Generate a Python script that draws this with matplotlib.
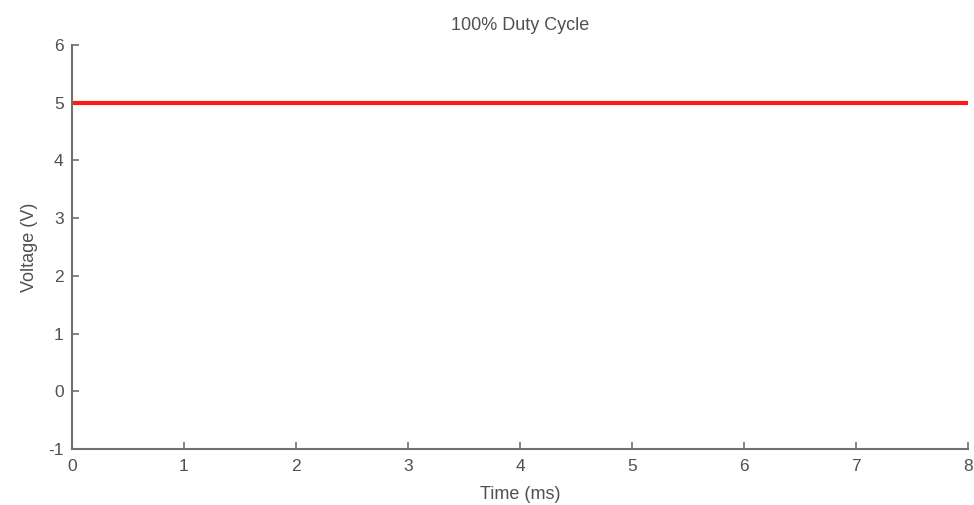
import matplotlib
matplotlib.use("Agg")
import matplotlib.pyplot as plt

time_ms = [0, 8]
voltage = [5, 5]
xticks = [0, 1, 2, 3, 4, 5, 6, 7, 8]
yticks = [-1, 0, 1, 2, 3, 4, 5, 6]

plt.rcParams['font.family'] = ['Liberation Sans', 'DejaVu Sans']
plt.rcParams['axes.unicode_minus'] = False
fig = plt.figure(figsize=(9.74, 5.05), dpi=100)
ax = fig.add_axes([72/974, 1-449/505, 896/974, 404/505])
ax.plot(time_ms, voltage, color='#ff1a1a', linewidth=3)
ax.set_xlim(0, 8)
ax.set_ylim(-1, 6)
ax.set_xticks(xticks)
ax.set_yticks(yticks)
gray = '#505050'
for s in ['top', 'right']:
    ax.spines[s].set_visible(False)
for s in ['left', 'bottom']:
    ax.spines[s].set_color('#707070')
    ax.spines[s].set_linewidth(1.5)
ax.tick_params(direction='in', length=5, width=1.2, colors='#707070', labelcolor=gray, labelsize=12.5)
ax.tick_params(axis='x', pad=7)
ax.tick_params(axis='y', pad=6)
ax.set_xlabel('Time (ms)', fontsize=13, color=gray, labelpad=9)
ax.set_ylabel('Voltage (V)', fontsize=13, color=gray, labelpad=7)
ax.set_title('100% Duty Cycle', fontsize=13, color=gray, pad=11)
fig.savefig('out.png', dpi=100)
